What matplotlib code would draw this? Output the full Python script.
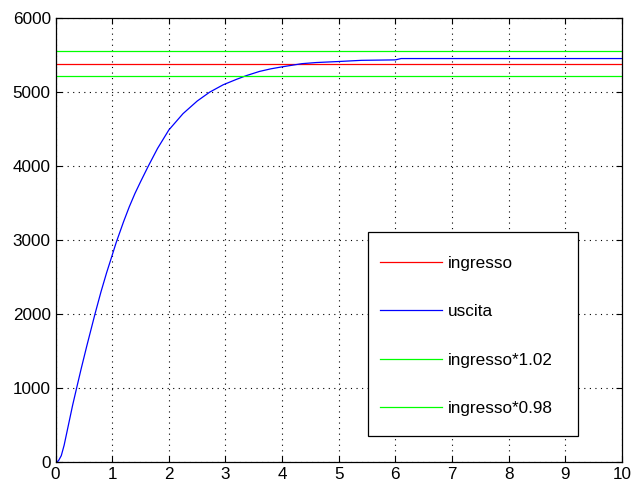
import matplotlib
matplotlib.use('Agg')
import matplotlib.pyplot as plt
from matplotlib.patches import Rectangle

# Data
t = [0, 0.05, 0.1, 0.15, 0.2, 0.25, 0.3, 0.37, 0.45, 0.55, 0.694, 0.8, 0.9,
     1.0, 1.07, 1.2, 1.3, 1.4, 1.5, 1.636, 1.8, 2.0, 2.25, 2.5, 2.72, 2.96,
     3.2, 3.37, 3.6, 3.8, 4.0, 4.35, 4.6, 5.0, 5.4, 6.0, 6.1, 7, 8, 9, 10]
uscita = [0, 20, 90, 230, 410, 590, 770, 1000, 1260, 1570, 2000, 2300, 2560,
          2800, 2970, 3250, 3450, 3630, 3790, 4000, 4240, 4490, 4710, 4880,
          5000, 5100, 5175, 5224, 5280, 5315, 5342, 5385, 5400, 5414,
          5430, 5436, 5454, 5454, 5454, 5454, 5454]
t_ref = [0, 10]
ingresso = [5385, 5385]
ingresso_hi = [5560, 5560]
ingresso_lo = [5222, 5222]

xticks = list(range(0, 11))
yticks = list(range(0, 6001, 1000))

plt.rcParams['font.family'] = ['Liberation Sans', 'DejaVu Sans']
plt.rcParams['font.size'] = 12.3

fig = plt.figure(figsize=(6.32, 4.90), dpi=100)
ax = fig.add_axes([0.088, 0.0565, 0.896, 0.9065])

ax.plot(t_ref, ingresso, color='#ff0000', lw=0.9, label='ingresso')
ax.plot(t, uscita, color='#0000ff', lw=0.9, label='uscita')
ax.plot(t_ref, ingresso_hi, color='#00ff00', lw=0.9, label='ingresso*1.02')
ax.plot(t_ref, ingresso_lo, color='#00ff00', lw=0.9, label='ingresso*0.98')

ax.set_xlim(0, 10)
ax.set_ylim(0, 6000)
ax.set_xticks(xticks)
ax.set_yticks(yticks)
ax.grid(True, linestyle=(0, (1, 4)), color='black', linewidth=0.8)
ax.tick_params(direction='in', top=True, right=True, length=4, width=0.8,
               labelsize=12.3, colors='black')
for s in ax.spines.values():
    s.set_linewidth(0.9)

# legend box (MATLAB style, wider on the right)
box = Rectangle((0.552, 0.059), 0.370, 0.460, transform=ax.transAxes,
                facecolor='white', edgecolor='black', linewidth=0.9, zorder=4)
ax.add_patch(box)
leg = ax.legend(loc='upper left', bbox_to_anchor=(0.5727, 0.4646),
                frameon=False, borderpad=0, labelspacing=1.95,
                handlelength=3.63, handletextpad=0.35, borderaxespad=0)
leg.set_zorder(5)

plt.savefig('out.png', dpi=100)
